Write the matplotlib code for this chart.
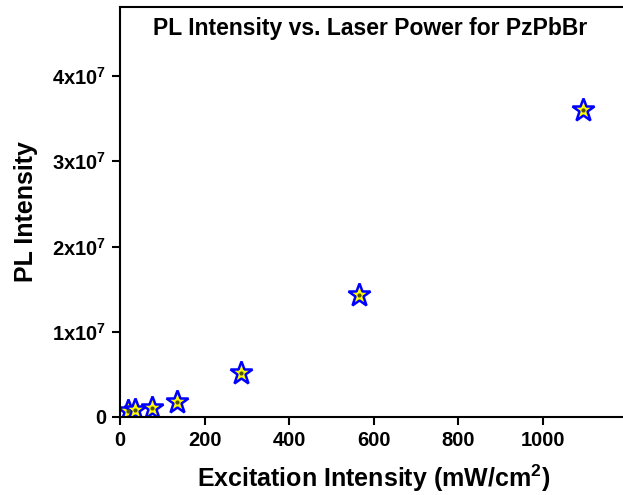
import numpy as np
import matplotlib.pyplot as plt

# excitation intensity (mW/cm^2) and PL intensity
excitation = [19, 35, 76, 135, 286, 566, 1095]
pl_intensity = [0.74e6, 0.82e6, 1.06e6, 1.76e6, 5.13e6, 1.43e7, 3.60e7]

x_ticks = [0, 200, 400, 600, 800, 1000]
y_ticks = [0, 1e7, 2e7, 3e7, 4e7]
y_tick_labels = ['0', r'1x10$^{7}$', r'2x10$^{7}$', r'3x10$^{7}$', r'4x10$^{7}$']

plt.rcParams['font.family'] = ['Liberation Sans', 'DejaVu Sans']
plt.rcParams['font.weight'] = 'bold'
plt.rcParams['mathtext.fontset'] = 'custom'
plt.rcParams['mathtext.rm'] = 'Liberation Sans:bold'
plt.rcParams['mathtext.default'] = 'rm'

fig = plt.figure(figsize=(6.23, 4.95), dpi=100)
ax = fig.add_axes([0.1926, 0.1576, 0.814, 0.8283])

# stars with a little dot in the middle
ax.plot(excitation, pl_intensity, linestyle='none', marker='*', markersize=17,
        markerfacecolor='#ffff00', markeredgecolor='#0000ff', markeredgewidth=1.8)
ax.plot(excitation, pl_intensity, linestyle='none', marker='o', markersize=2,
        color='#555500')

ax.set_xlim(0, 1200)
ax.set_ylim(0, 4.81e7)
ax.set_xticks(x_ticks)
ax.set_yticks(y_ticks)
ax.set_yticklabels(y_tick_labels)
ax.tick_params(direction='out', length=6, width=1.5, labelsize=14.5, pad=4)
for lab in ax.get_xticklabels() + ax.get_yticklabels():
    lab.set_fontweight('bold')
for s in ax.spines.values():
    s.set_linewidth(1.5)

ax.set_xlabel(r'Excitation Intensity (mW/cm$^{2}$)', fontsize=18, fontweight='bold', labelpad=9)
ax.set_ylabel('PL Intensity', fontsize=18, fontweight='bold', labelpad=10)
fig.text(370 / 623, 1 - 29 / 495, 'PL Intensity vs. Laser Power for PzPbBr',
         ha='center', va='center', fontsize=16.5, fontweight='bold')

fig.savefig('out.png', dpi=100)
